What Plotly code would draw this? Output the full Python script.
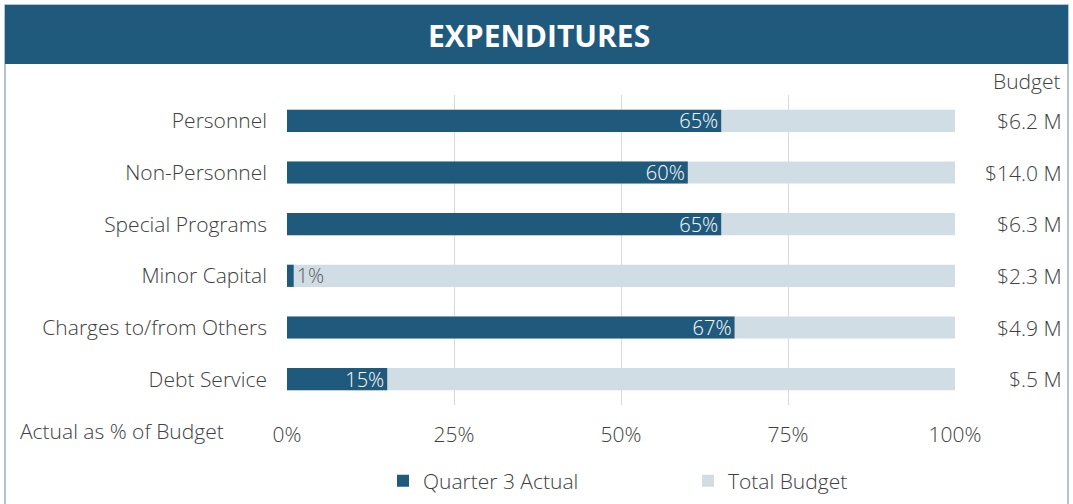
import plotly.graph_objects as go

categories = ["Personnel", "Non-Personnel", "Special Programs", "Minor Capital",
              "Charges to/from Others", "Debt Service"]
actual_pct = [0.65, 0.60, 0.65, 0.01, 0.67, 0.15]
total_pct = [1.0, 1.0, 1.0, 1.0, 1.0, 1.0]
budget_labels = ["$6.2 M", "$14.0 M", "$6.3 M", "$2.3 M", "$4.9 M", "$.5 M"]
tick_vals = [0, 0.25, 0.5, 0.75, 1.0]
tick_text = ["0%", "25%", "50%", "75%", "100%"]

DARK = "#1F5A7C"
LIGHT = "#D1DDE5"
TXT = "#404040"
FONT = "Open Sans"
FS = 21
W, H = 1073, 504

text_pos = ["outside" if v < 0.05 else "inside" for v in actual_pct]
text_col = ["#595959" if v < 0.05 else "white" for v in actual_pct]

fig = go.Figure()
fig.add_trace(go.Bar(
    y=categories, x=total_pct, orientation="h", name="Total Budget",
    marker=dict(color=LIGHT, line=dict(width=0)), width=0.43, hoverinfo="skip",
))
fig.add_trace(go.Bar(
    y=categories, x=actual_pct, orientation="h", name="Quarter 3 Actual",
    marker=dict(color=DARK, line=dict(width=0)), width=0.43,
    text=[f"{round(v*100)}%" for v in actual_pct],
    textposition=text_pos, insidetextanchor="end",
    textfont=dict(color=text_col, size=20, family=FONT, weight=300),
    outsidetextfont=dict(color="#595959", size=20, family=FONT, weight=300),
    cliponaxis=False, constraintext="none",
))

for cat, lab in zip(categories, budget_labels):
    fig.add_annotation(x=1064 / W, xref="paper", y=cat, yref="y", text=lab,
                       xanchor="right", showarrow=False,
                       font=dict(size=FS, color=TXT, family=FONT, weight=300))

fig.add_annotation(x=1063 / W, xref="paper", y=1 - 81 / H, yref="paper", text="Budget",
                   xanchor="right", yanchor="middle", showarrow=False,
                   font=dict(size=FS, color=TXT, family=FONT, weight=300))
fig.add_annotation(x=18 / W, xref="paper", y=1 - 431 / H, yref="paper",
                   text="Actual as % of Budget", xanchor="left", yanchor="middle",
                   showarrow=False, font=dict(size=FS, color=TXT, family=FONT, weight=300))

# Banner and frame
fig.add_shape(type="rect", xref="paper", yref="paper", x0=5 / W, x1=1068 / W,
              y0=-0.05, y1=1 - 5 / H, line=dict(color="#9AB0C1", width=1.5),
              fillcolor="rgba(0,0,0,0)", layer="below")
fig.add_shape(type="rect", xref="paper", yref="paper", x0=5 / W, x1=1068 / W,
              y0=1 - 64 / H, y1=1 - 5 / H, line=dict(width=0), fillcolor=DARK,
              layer="below")
fig.add_annotation(x=539 / W, xref="paper", y=1 - 36 / H, yref="paper",
                   text="<b>EXPENDITURES</b>", showarrow=False,
                   xanchor="center", yanchor="middle",
                   font=dict(size=30, color="white", family=FONT))

fig.update_layout(
    width=W, height=H, margin=dict(l=0, r=0, t=0, b=0, autoexpand=False),
    paper_bgcolor="white", plot_bgcolor="white",
    barmode="overlay", bargap=0.5,
    font=dict(family=FONT, color=TXT, size=FS, weight=300),
    xaxis=dict(domain=[287 / W, 955 / W], range=[0, 1], tickvals=tick_vals,
               ticktext=tick_text, showgrid=True, gridcolor="#D9D9D9",
               gridwidth=1, zeroline=False, showline=False, ticks="",
               automargin=False, ticklabelstandoff=15,
               tickfont=dict(size=FS, color=TXT, family=FONT, weight=300)),
    yaxis=dict(domain=[1 - 405 / H, 1 - 95 / H], autorange="reversed",
               showgrid=False, ticks="", ticklabelstandoff=19, automargin=False,
               tickfont=dict(size=FS, color=TXT, family=FONT, weight=300),
               showline=False),
    showlegend=True,
    legend=dict(orientation="h", x=383 / W, xanchor="left", y=1 - 481 / H,
                yanchor="middle", traceorder="reversed", entrywidth=260,
                font=dict(size=FS, color=TXT, family=FONT, weight=300),
                bgcolor="rgba(0,0,0,0)"),
)

fig.write_html("out.html", config={"displayModeBar": False},
               post_script="document.body.style.margin='0';document.body.style.overflow='hidden';")
